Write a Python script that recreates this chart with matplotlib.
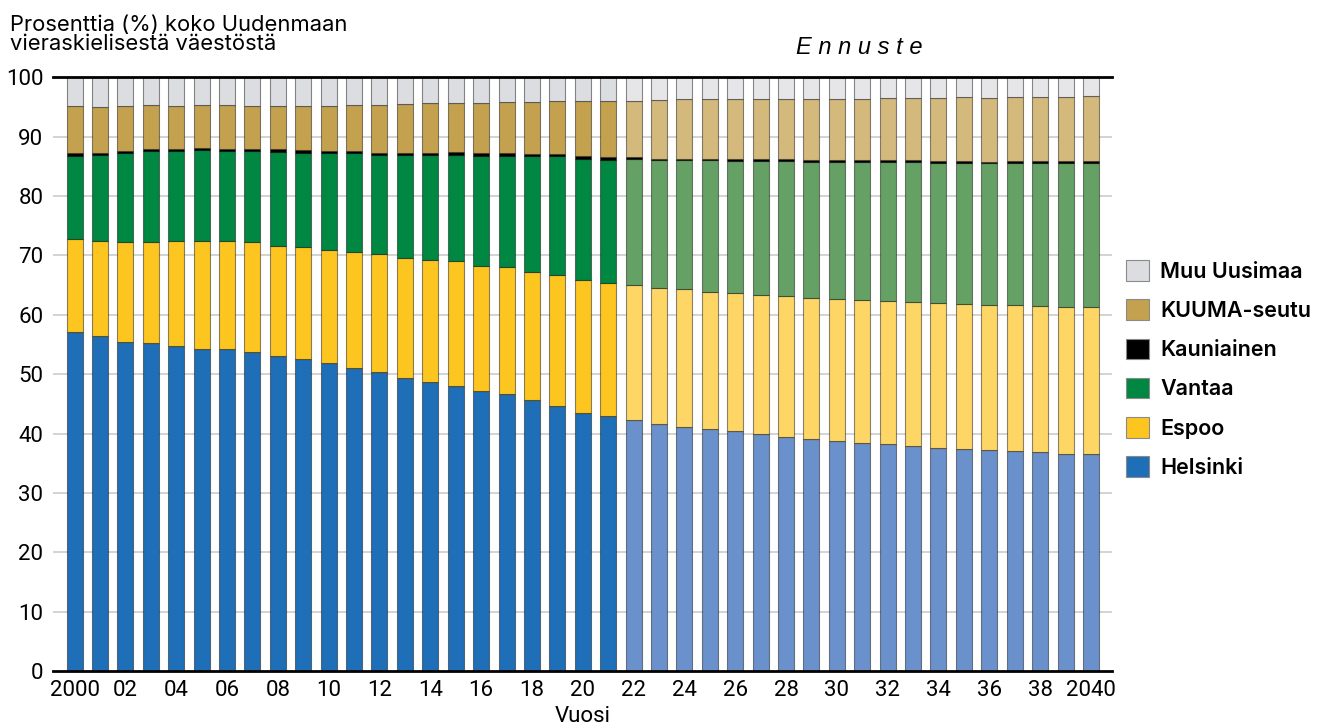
import numpy as np
import matplotlib.pyplot as plt
from matplotlib.patches import Patch

# Uudenmaan vieraskielinen väestö, osuus (%) alueittain
years = list(range(2000, 2041))
forecast_start = 2022

helsinki = [57.1, 56.4, 55.4, 55.2, 54.7, 54.2, 54.2, 53.7, 53.0, 52.6,
            51.9, 51.1, 50.3, 49.4, 48.7, 48.0, 47.2, 46.7, 45.7, 44.6,
            43.5, 42.9, 42.3, 41.7, 41.2, 40.8, 40.4, 39.9, 39.5, 39.1,
            38.8, 38.5, 38.2, 37.9, 37.6, 37.4, 37.2, 37.1, 36.9, 36.6, 36.5]
espoo = [15.6, 16.1, 16.9, 17.1, 17.7, 18.2, 18.3, 18.5, 18.6, 18.8,
         19.0, 19.5, 19.9, 20.2, 20.6, 21.0, 21.1, 21.4, 21.6, 22.1,
         22.3, 22.4, 22.7, 22.8, 23.1, 23.1, 23.3, 23.5, 23.7, 23.8,
         23.9, 24.0, 24.2, 24.2, 24.4, 24.5, 24.5, 24.5, 24.6, 24.8, 24.8]
vantaa = [14.1, 14.4, 14.9, 15.3, 15.2, 15.3, 15.1, 15.4, 15.9, 15.9,
          16.3, 16.6, 16.7, 17.3, 17.6, 18.0, 18.5, 18.7, 19.4, 20.0,
          20.5, 20.8, 21.2, 21.5, 21.7, 22.1, 22.2, 22.5, 22.7, 22.9,
          23.1, 23.2, 23.3, 23.6, 23.6, 23.7, 23.8, 24.0, 24.1, 24.2, 24.3]
kauniainen = [0.4, 0.4, 0.4, 0.4, 0.4, 0.4, 0.4, 0.4, 0.4, 0.4,
              0.4, 0.4, 0.4, 0.4, 0.4, 0.4, 0.4, 0.4, 0.4, 0.4,
              0.4, 0.4, 0.3, 0.3, 0.3, 0.3, 0.3, 0.3, 0.3, 0.3,
              0.3, 0.3, 0.3, 0.3, 0.3, 0.3, 0.3, 0.3, 0.3, 0.3, 0.3]
kuuma = [7.9, 7.7, 7.5, 7.3, 7.2, 7.3, 7.3, 7.2, 7.3, 7.5,
         7.6, 7.8, 8.1, 8.2, 8.3, 8.3, 8.4, 8.6, 8.8, 8.9,
         9.3, 9.5, 9.5, 9.9, 10.0, 10.0, 10.1, 10.2, 10.2, 10.3,
         10.3, 10.4, 10.5, 10.5, 10.6, 10.7, 10.7, 10.8, 10.8, 10.8, 10.9]
muu = [4.9, 5.0, 4.9, 4.7, 4.8, 4.6, 4.7, 4.8, 4.8, 4.8,
       4.8, 4.6, 4.6, 4.5, 4.4, 4.4, 4.4, 4.2, 4.1, 4.0,
       4.0, 4.0, 4.0, 3.8, 3.7, 3.7, 3.6, 3.6, 3.6, 3.5,
       3.5, 3.5, 3.5, 3.4, 3.4, 3.4, 3.3, 3.3, 3.3, 3.3, 3.2]

series = [
    ('Helsinki', helsinki, '#1f6fb8', '#6a91cb'),
    ('Espoo', espoo, '#fcc520', '#fdd666'),
    ('Vantaa', vantaa, '#008742', '#65a064'),
    ('Kauniainen', kauniainen, '#000000', '#000000'),
    ('KUUMA-seutu', kuuma, '#c3a14e', '#d3b97c'),
    ('Muu Uusimaa', muu, '#dcdde0', '#e6e6e9'),
]

xticks = list(range(2000, 2041, 2))
xticklabels = ['2000'] + ['%02d' % (y % 100) for y in xticks[1:-1]] + ['2040']
yticks = list(range(0, 101, 10))

TICKFONT = ['Roboto', 'DejaVu Sans']
TEXTFONT = ['Inter', 'DejaVu Sans']

W, H = 1342, 727
fig = plt.figure(figsize=(W / 100, H / 100), dpi=100)
ax = fig.add_axes([53 / W, 55.8 / H, (1112 - 53) / W, 593.9 / H])

x = np.array(years)
bottom = np.zeros(len(years))
for name, vals, c_hist, c_fc in series:
    vals = np.array(vals)
    cols = [c_hist if y < forecast_start else c_fc for y in years]
    ax.bar(x, vals, width=0.63, bottom=bottom, color=cols,
           edgecolor=(0, 0, 0, 0.45), linewidth=0.8, zorder=3)
    bottom += vals

ax.set_xlim(1999.15, 2040.83)
ax.set_ylim(0, 100)

# gridlines and the heavy base/top lines
for yv in yticks[1:-1]:
    ax.axhline(yv, color='#c8c8c8', lw=1.1, zorder=1)
ax.axhline(0, color='black', lw=2, zorder=5, clip_on=False)
ax.axhline(100, color='black', lw=2, zorder=5, clip_on=False)

for s in ax.spines.values():
    s.set_visible(False)

ax.set_yticks(yticks)
ax.set_yticklabels([str(v) for v in yticks], family=TICKFONT, fontsize=16)
ax.set_xticks(xticks)
ax.set_xticklabels(xticklabels, family=TICKFONT, fontsize=16)
ax.tick_params(axis='both', length=0)
ax.tick_params(axis='y', pad=7)
ax.tick_params(axis='x', pad=6)

fig.text(10 / W, 1 - 15 / H, 'Prosenttia (%) koko Uudenmaan\nvieraskielisestä väestöstä',
         family=TEXTFONT, fontsize=15.8, va='top', ha='left', linespacing=0.95)
fig.text(859 / W, 1 - 47 / H, 'E n n u s t e', family=['Liberation Sans', 'DejaVu Sans'],
         style='italic', fontsize=17, ha='center', va='center')
fig.text(583 / W, 1 - 716 / H, 'Vuosi', family=TICKFONT, fontsize=16,
         ha='center', va='center')

handles = [Patch(facecolor=c_hist, edgecolor='#8a8a8a', linewidth=0.8, label=name)
           for name, vals, c_hist, c_fc in series[::-1]]
fig.legend(handles=handles, loc='center left', bbox_to_anchor=(1117 / W, 1 - 369 / H),
           frameon=False, handlelength=1.1, handleheight=1.1, handletextpad=0.5,
           labelspacing=0.82, borderaxespad=0,
           prop={'family': TEXTFONT, 'size': 15.5, 'weight': 'semibold'})

fig.savefig('out.png', dpi=100)
